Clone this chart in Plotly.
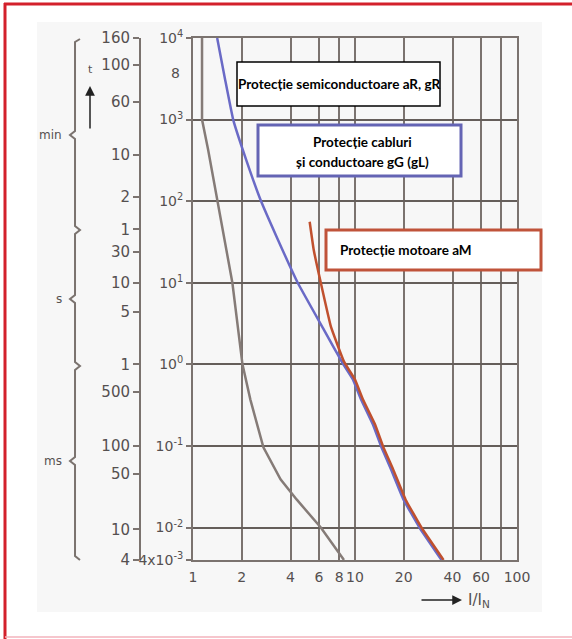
import numpy as np
import plotly.graph_objects as go

# ---- data (x = I/IN, y = t in seconds) ----
x_ticks = [1, 2, 4, 6, 8, 10, 20, 40, 60, 80, 100]
x_labels = ["1", "2", "4", "6", "8", "10", "20", "40", "60", "", "100"]

y_ticks = [0.004, 0.01, 0.1, 1, 10, 100, 1000, 10000]
y_labels = ["4x10<sup>-3</sup>", "10<sup>-2</sup>", "10<sup>-1</sup>", "10<sup>0</sup>",
            "10<sup>1</sup>", "10<sup>2</sup>", "10<sup>3</sup>", "10<sup>4</sup>"]

# time scale on the left (min / s / ms) as drawn in the picture
t_ticks = [10000, 4700, 1650, 370, 113, 45, 24, 10, 4.4, 1, 0.46, 0.1, 0.045, 0.0095, 0.004]
t_labels = ["160", "100", "60", "10", "2", "1", "30", "10", "5", "1", "500", "100", "50", "10", "4"]

# semiconductor protection aR, gR
semi_x = [1.137, 1.137, 1.24, 1.41, 1.75, 2.02, 2.26, 2.72, 3.14, 3.47, 4.36, 6.15, 8.55]
semi_y = [10000, 1000, 426, 104, 10, 1.0, 0.37, 0.096, 0.056, 0.0389, 0.0221, 0.01, 0.004]

# cable and conductor protection gG (gL)
cable_x = [1.41, 1.58, 1.77, 2.13, 2.61, 3.28, 4.43, 6.42, 8.42, 9.72, 10.9, 12.9, 14.5, 16.7, 19.9, 25.0, 34.2]
cable_y = [10000, 3063, 1000, 321, 104, 36.7, 10, 2.67, 1.02, 0.65, 0.37, 0.183, 0.0986, 0.0515, 0.0221,
           0.01, 0.004]

# motor protection aM
motor_x = [5.25, 5.56, 6.15, 7.1, 8.55, 10.0, 11.2, 13.3, 14.9, 17.2, 20.5, 25.7, 35.2]
motor_y = [56, 25.4, 10, 2.9, 1.08, 0.65, 0.37, 0.183, 0.0986, 0.0515, 0.0221, 0.01, 0.004]

# ---- page geometry (pixels) ----
W, H = 572, 639
L, R, T, B = 20, 55, 38, 79
PW, PH = W - L - R, H - T - B


def px(x):
    return (x - L) / PW


def py(y):
    return (H - B - y) / PH


def path(points):
    return "M " + " L ".join(f"{px(a):.4f},{py(b):.4f}" for a, b in points)


GRID = "#7b736f"
TXT = "#555050"
FONT = "DejaVu Sans"
BOXFONT = "Lato"

fig = go.Figure()

fig.add_trace(go.Scatter(x=semi_x, y=semi_y, mode="lines",
                         line=dict(color="#857b77", width=2.5), showlegend=False))
fig.add_trace(go.Scatter(x=cable_x, y=cable_y, mode="lines", line_shape="spline",
                         line=dict(color="#6a6ac6", width=2.5, smoothing=0.3), showlegend=False))
fig.add_trace(go.Scatter(x=motor_x, y=motor_y, mode="lines", line_shape="spline",
                         line=dict(color="#c0502e", width=2.5, smoothing=0.3), showlegend=False))
# invisible trace to bring up the left time axis
fig.add_trace(go.Scatter(x=[1], y=[1], yaxis="y2", mode="markers",
                         marker=dict(opacity=0), showlegend=False, hoverinfo="skip"))

yrange = [np.log10(0.004), 4]

fig.update_layout(
    width=W, height=H,
    margin=dict(l=L, r=R, t=T, b=B),
    paper_bgcolor="white",
    plot_bgcolor="rgba(0,0,0,0)",
    xaxis=dict(type="log", range=[0, 2], domain=[px(193), 1],
               tickvals=x_ticks, ticktext=x_labels,
               showgrid=True, gridcolor=GRID, gridwidth=2,
               showline=True, linecolor=GRID, linewidth=2, mirror=True,
               ticks="", zeroline=False, ticklabelstandoff=3,
               tickfont=dict(family=FONT, size=14, color=TXT)),
    yaxis=dict(type="log", range=yrange,
               tickvals=y_ticks, ticktext=y_labels,
               showgrid=True, gridcolor="#655e5a", gridwidth=2,
               showline=True, linecolor=GRID, linewidth=2, mirror=True,
               ticks="outside", ticklen=5, tickwidth=1.5, tickcolor=GRID,
               zeroline=False,
               tickfont=dict(family=FONT, size=14, color=TXT)),
    yaxis2=dict(type="log", range=yrange, overlaying="y", anchor="free",
                position=px(140), side="left",
                tickvals=t_ticks, ticktext=t_labels,
                showgrid=False, zeroline=False,
                showline=True, linecolor=GRID, linewidth=2,
                ticks="outside", ticklen=6, tickwidth=1.5, tickcolor=GRID,
                tickfont=dict(family=FONT, size=15, color=TXT)),
)

shapes = []
# light grey panel behind the chart
shapes.append(dict(type="rect", xref="paper", yref="paper", layer="below",
                   x0=px(37), x1=px(542), y0=py(612), y1=py(22),
                   fillcolor="#f7f7f7", line=dict(width=0)))
# red frame of the page
shapes.append(dict(type="line", xref="paper", yref="paper",
                   x0=px(4), x1=px(580), y0=py(4), y1=py(4),
                   line=dict(color="#d3202b", width=3)))
shapes.append(dict(type="line", xref="paper", yref="paper",
                   x0=px(5), x1=px(5), y0=py(3), y1=py(645),
                   line=dict(color="#d3202b", width=3)))
shapes.append(dict(type="line", xref="paper", yref="paper",
                   x0=px(5), x1=px(580), y0=py(637), y1=py(637),
                   line=dict(color="#f3b3bd", width=1.5)))

# brace for min / s / ms
brace = [(80, 39), (75, 42), (75, 131), (70, 135), (75, 139), (75, 226), (80, 230), (75, 234),
         (75, 295), (70, 299), (75, 303), (75, 362), (80, 366), (75, 370),
         (75, 457), (70, 461), (75, 465), (75, 556), (80, 560)]
shapes.append(dict(type="path", xref="paper", yref="paper", path=path(brace),
                   line=dict(color=GRID, width=2)))

# label boxes
shapes.append(dict(type="rect", xref="paper", yref="paper",
                   x0=px(237), x1=px(440), y0=py(106), y1=py(62),
                   fillcolor="white", line=dict(color="black", width=1.5)))
shapes.append(dict(type="rect", xref="paper", yref="paper",
                   x0=px(258), x1=px(461), y0=py(176), y1=py(125),
                   fillcolor="white", line=dict(color="#6464b4", width=3)))
shapes.append(dict(type="rect", xref="paper", yref="paper",
                   x0=px(326), x1=px(541), y0=py(270), y1=py(230),
                   fillcolor="white", line=dict(color="#c0533a", width=3)))
fig.update_layout(shapes=shapes)

ann = []


def text(x, y, s, size=13, color=TXT, family=FONT, xanchor="center", weight="normal"):
    ann.append(dict(x=px(x), y=py(y), xref="paper", yref="paper", text=s, showarrow=False,
                    xanchor=xanchor, yanchor="middle",
                    font=dict(family=family, size=size, color=color, weight=weight)))


text(339, 84, "Protecție semiconductoare aR, gR", 13.5, "black", BOXFONT, weight="bold")
text(362, 142, "Protecție cabluri", 13.5, "black", BOXFONT, weight="bold")
text(362, 162, "și conductoare gG (gL)", 13.5, "black", BOXFONT, weight="bold")
text(338, 250, "Protecție motoare aM", 13.5, "black", BOXFONT, "left", weight="bold")

text(175, 73, "8", 14)
text(64, 135, "min", 12, xanchor="right")
text(64, 299, "s", 12, xanchor="right")
text(64, 461, "ms", 12, xanchor="right")
text(90, 70, "t", 11)
text(466, 600, "I/I<sub>N</sub>", 15, xanchor="left")

# arrows for t and I/IN
ann.append(dict(x=px(90), y=py(86), xref="paper", yref="paper", ax=0, ay=44, text="",
                showarrow=True, arrowhead=2, arrowsize=1.3, arrowwidth=1.5, arrowcolor="#222"))
ann.append(dict(x=px(462), y=py(600), xref="paper", yref="paper", ax=-42, ay=0, text="",
                showarrow=True, arrowhead=2, arrowsize=1.3, arrowwidth=1.5, arrowcolor="#222"))
fig.update_layout(annotations=ann)

fig.write_html("out.html", config={"displayModeBar": False},
               post_script="document.body.style.margin='0';")
